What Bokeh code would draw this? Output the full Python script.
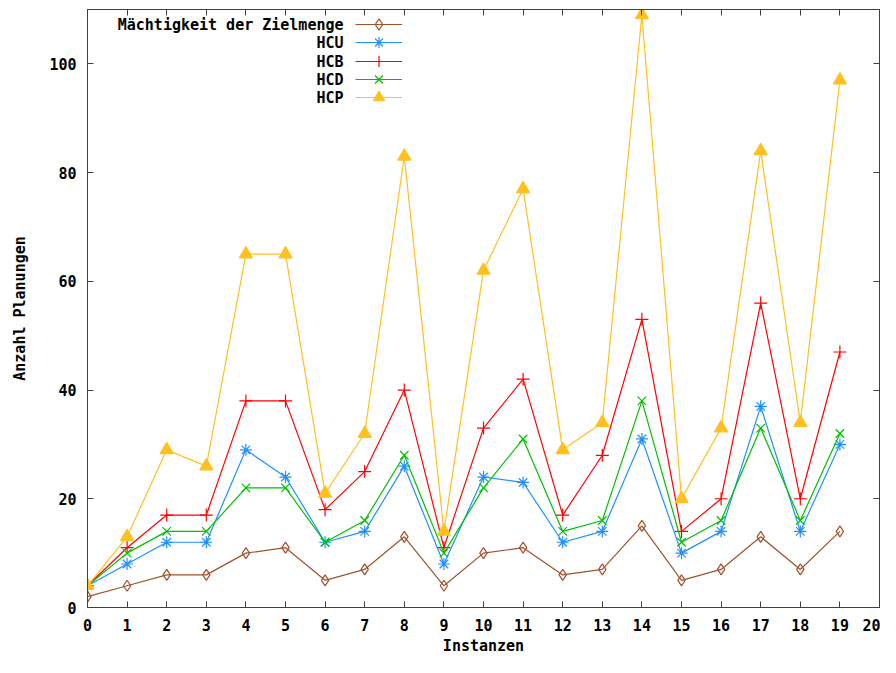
from bokeh.plotting import figure
from bokeh.models import (Range1d, FixedTicker, LinearAxis, Legend, LegendItem,
                          Label, CustomJSTickFormatter)
from bokeh.embed import file_html
from bokeh.resources import INLINE

# ---- data ----
instanzen = list(range(20))
maechtigkeit = [2, 4, 6, 6, 10, 11, 5, 7, 13, 4, 10, 11, 6, 7, 15, 5, 7, 13, 7, 14]
hcu = [4, 8, 12, 12, 29, 24, 12, 14, 26, 8, 24, 23, 12, 14, 31, 10, 14, 37, 14, 30]
hcb = [4, 11, 17, 17, 38, 38, 18, 25, 40, 11, 33, 42, 17, 28, 53, 14, 20, 56, 20, 47]
hcd = [4, 10, 14, 14, 22, 22, 12, 16, 28, 10, 22, 31, 14, 16, 38, 12, 16, 33, 16, 32]
hcp = [4, 13, 29, 26, 65, 65, 21, 32, 83, 14, 62, 77, 29, 34, 109, 20, 33, 84, 34, 97]

series_names = ["Mächtigkeit der Zielmenge", "HCU", "HCB", "HCD", "HCP"]
series_values = [maechtigkeit, hcu, hcb, hcd, hcp]
x_ticks = list(range(21))
y_ticks = [0, 20, 40, 60, 80, 100]

colors = ["#a0522d", "#1e90ff", "#ff0000", "#00c000", "#ffc020"]
markers = ["diamond", "asterisk", "cross", "x", "triangle"]
sizes = [11, 12, 13, 12, 13]

FONT = "DejaVu Sans Mono"
FS = "15px"
AXC = "#404040"

p = figure(width=880, height=657, output_backend="svg", toolbar_location=None,
           x_range=Range1d(0, 20), y_range=Range1d(0, 110),
           min_border_left=87, min_border_right=1, min_border_top=9,
           min_border_bottom=50)
p.xgrid.visible = False
p.ygrid.visible = False
p.outline_line_color = AXC
p.background_fill_color = "white"

def style_axis(ax):
    ax.axis_line_color = AXC
    ax.major_tick_line_color = AXC
    ax.major_tick_in = 6
    ax.major_tick_out = 0
    ax.minor_tick_line_color = None
    ax.major_label_text_font = FONT
    ax.major_label_text_font_style = "bold"
    ax.major_label_text_font_size = FS
    ax.major_label_text_color = "black"
    ax.axis_label_text_font = FONT
    ax.axis_label_text_font_style = "bold"
    ax.axis_label_text_font_size = FS
    ax.axis_label_text_color = "black"

xa = p.xaxis[0]
ya = p.yaxis[0]
xa.ticker = FixedTicker(ticks=x_ticks)
ya.ticker = FixedTicker(ticks=y_ticks)
style_axis(xa)
style_axis(ya)
xa.axis_label = "Instanzen"
ya.axis_label = "Anzahl Planungen"
xa.major_label_standoff = 11
xa.axis_label_standoff = 3
ya.major_label_standoff = 11
ya.axis_label_standoff = 17

blank = CustomJSTickFormatter(code="return ''")
top = LinearAxis(ticker=FixedTicker(ticks=x_ticks), formatter=blank)
right = LinearAxis(ticker=FixedTicker(ticks=y_ticks), formatter=blank)
for ax in (top, right):
    style_axis(ax)
    ax.major_label_standoff = 0
    ax.major_label_text_font_size = "0px"
p.add_layout(top, "above")
p.add_layout(right, "right")

# legend rows (screen positions relative to the plot frame)
legend_bottoms = [569, 551, 532, 514, 496]
label_y = [583, 565, 546, 528, 510]

for name, vals, col, mk, sz, lb, ly in zip(series_names, series_values, colors,
                                           markers, sizes, legend_bottoms, label_y):
    lr = p.line(instanzen, vals, line_color=col, line_width=1.2)
    fill = col if mk == "triangle" else None
    sr = p.scatter(instanzen, vals, marker=mk, size=sz, line_color=col,
                   fill_color=fill, line_width=1.2)
    leg = Legend(items=[LegendItem(label="", renderers=[lr, sr])],
                 location=(268, lb), orientation="vertical",
                 glyph_width=47, glyph_height=28, label_width=0, label_height=18,
                 label_standoff=0, spacing=0, padding=0, margin=0,
                 border_line_color=None, background_fill_alpha=0,
                 label_text_font_size="1px")
    p.add_layout(leg, "center")
    p.add_layout(Label(x=256, y=ly, x_units="screen", y_units="screen", text=name,
                       text_align="right", text_baseline="middle",
                       text_font=FONT, text_font_style="bold", text_font_size=FS,
                       text_color="black"))

open("out.html", "w").write(file_html(p, INLINE))
